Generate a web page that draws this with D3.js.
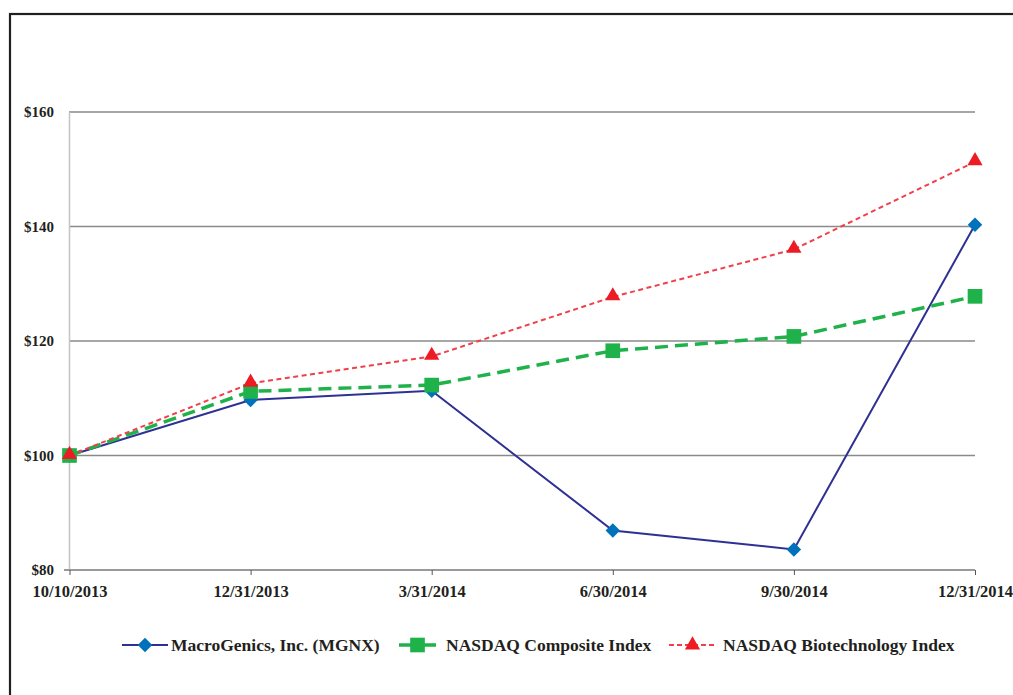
<!DOCTYPE html>
<html>
<head>
<meta charset="utf-8">
<script src="https://cdn.jsdelivr.net/npm/d3@7"></script>
<style>
html,body{margin:0;padding:0;background:#fff;}
svg{display:block;}
text{font-family:"Liberation Serif","Times New Roman",serif;font-weight:bold;fill:#231f20;}
</style>
</head>
<body>
<svg id="chart" width="1013" height="695"></svg>
<script>
const categories = ["10/10/2013","12/31/2013","3/31/2014","6/30/2014","9/30/2014","12/31/2014"];
const mgnx      = [100, 109.7, 111.3, 86.9, 83.6, 140.3];
const composite = [100, 111.2, 112.3, 118.3, 120.8, 127.8];
const biotech   = [100, 112.6, 117.3, 127.7, 136.0, 151.3];
const yTicks = [80, 100, 120, 140, 160];
const seriesNames = ["MacroGenics, Inc. (MGNX)", "NASDAQ Composite Index", "NASDAQ Biotechnology Index"];

const svg = d3.select("#chart");

// outer frame (extends past viewport on right/bottom)
svg.append("rect").attr("x",10).attr("y",14).attr("width",1040).attr("height",720)
  .attr("fill","none").attr("stroke","#231f20").attr("stroke-width",2.2);

const x = d3.scalePoint().domain(categories).range([69.5, 975]);
const y = d3.scaleLinear().domain([80,160]).range([570, 112]);

// gridlines
svg.append("g").selectAll("line").data(yTicks.filter(d=>d>80)).join("line")
  .attr("x1",69).attr("x2",975).attr("y1",d=>y(d)).attr("y2",d=>y(d))
  .attr("stroke","#8a8a8a").attr("stroke-width",1.6);

// y axis line
svg.append("line").attr("x1",69.5).attr("x2",69.5).attr("y1",112).attr("y2",570)
  .attr("stroke","#c4c4c4").attr("stroke-width",1.5);

// x axis
const xAxis = svg.append("g").attr("transform","translate(0,570)")
  .call(d3.axisBottom(x).tickSize(5).tickPadding(9));
xAxis.select(".domain").attr("stroke","#9a9a9a").attr("stroke-width",2).attr("d","M64,0H975");
xAxis.selectAll(".tick line").attr("stroke","#555").attr("stroke-width",1);
xAxis.selectAll(".tick text").attr("font-size",16.5).attr("font-family","Liberation Serif").attr("font-weight","bold").attr("fill","#231f20").attr("dy","0.8em");

// y labels
svg.append("g").selectAll("text").data(yTicks).join("text")
  .attr("x",54).attr("y",d=>y(d)).attr("dy","0.35em").attr("text-anchor","end")
  .attr("font-size",15).text(d=>"$"+d);

const line = d3.line().x((d,i)=>x(categories[i])).y(d=>y(d));

const series = [
  {name:seriesNames[0], data:mgnx, stroke:"#2e3192", width:2, dash:null, marker:"diamond", fill:"#0072bc"},
  {name:seriesNames[1], data:composite, stroke:"#1fb24b", width:3.5, dash:"13,7", marker:"square", fill:"#1fb24b"},
  {name:seriesNames[2], data:biotech, stroke:"#f0404a", width:2, dash:"5,3.5", marker:"triangle", fill:"#ed1c24"}
];

const symbolFor = {
  diamond: d3.symbol().type(d3.symbolSquare).size(105),
  square: d3.symbol().type(d3.symbolSquare).size(215),
  triangle: d3.symbol().type(d3.symbolTriangle).size(100)
};
function drawMarker(g, s, cx, cy){
  return g.append("path").attr("d", symbolFor[s.marker]()).attr("fill", s.fill)
    .attr("transform", `translate(${cx},${cy})` + (s.marker==="diamond" ? " rotate(45)" : ""));
}

series.forEach(s=>{
  const g = svg.append("g");
  g.append("path").datum(s.data).attr("d", line).attr("fill","none")
    .attr("stroke", s.stroke).attr("stroke-width", s.width)
    .attr("stroke-dasharray", s.dash);
  s.data.forEach((v,i)=> drawMarker(g, s, x(categories[i]), y(v) + (s.marker==="triangle"?-1:0)));
});

// legend
const legendItems = [
  {s:series[0], x0:122, x1:168, tx:171},
  {s:series[1], x0:399, x1:436, tx:446},
  {s:series[2], x0:669, x1:716, tx:723}
];
const ly = 645;
legendItems.forEach(it=>{
  const g = svg.append("g");
  g.append("line").attr("x1",it.x0).attr("x2",it.x1).attr("y1",ly).attr("y2",ly)
    .attr("stroke",it.s.stroke).attr("stroke-width",it.s.width)
    .attr("stroke-dasharray", it.s.marker==="triangle" ? "5,3" : null);
  drawMarker(g, it.s, (it.x0+it.x1)/2, ly);
  g.append("text").attr("x",it.tx).attr("y",ly).attr("dy","0.35em").attr("font-size",17.5).text(it.s.name);
});
</script>
</body>
</html>
